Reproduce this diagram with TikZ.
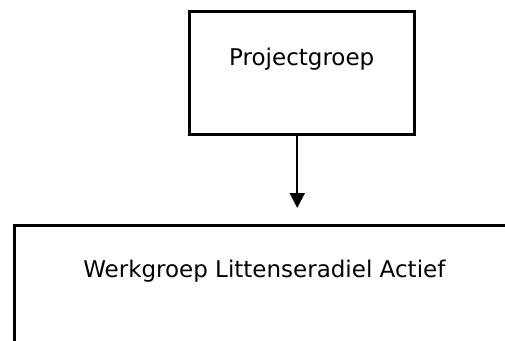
\documentclass[tikz,border=0pt]{standalone}
\usepackage{fontspec}
\setmainfont{DejaVu Sans}
\usetikzlibrary{positioning}
\usetikzlibrary{arrows.meta}

\begin{document}
\begin{tikzpicture}[x=1pt, y=1pt, line width=2.5pt]
	\tikzset{groepbox/.style={draw, rectangle, inner sep=0pt, anchor=north west},
		groeptext/.style={font=\fontsize{23}{28}\selectfont, inner sep=0pt}}
	%frame
	\clip (0, 0) rectangle (505, -340);
	%Projectgroep
	\node[groepbox, minimum width=225pt, minimum height=123pt] (projectgroep) at (188, -10) {};
	\node[groeptext, anchor=base] (projectlabel) at ([yshift=-55pt]projectgroep.north) {Projectgroep};
	%Werkgroep
	\node[groepbox, minimum width=510pt, minimum height=150pt] (werkgroep) at (13, -224) {};
	\node[groeptext, anchor=base west] (werkgroeplabel) at ([xshift=69pt, yshift=-53pt]werkgroep.north west) {Werkgroep Littenseradiel Actief};
	%arrow
	\draw[-{Triangle[width=15pt,length=15pt]}, line width=2pt, shorten >=16pt] ([xshift=-4.5pt]projectgroep.south) -- ([xshift=-4.5pt]projectgroep.south |- werkgroep.north);
\end{tikzpicture}
\end{document}
